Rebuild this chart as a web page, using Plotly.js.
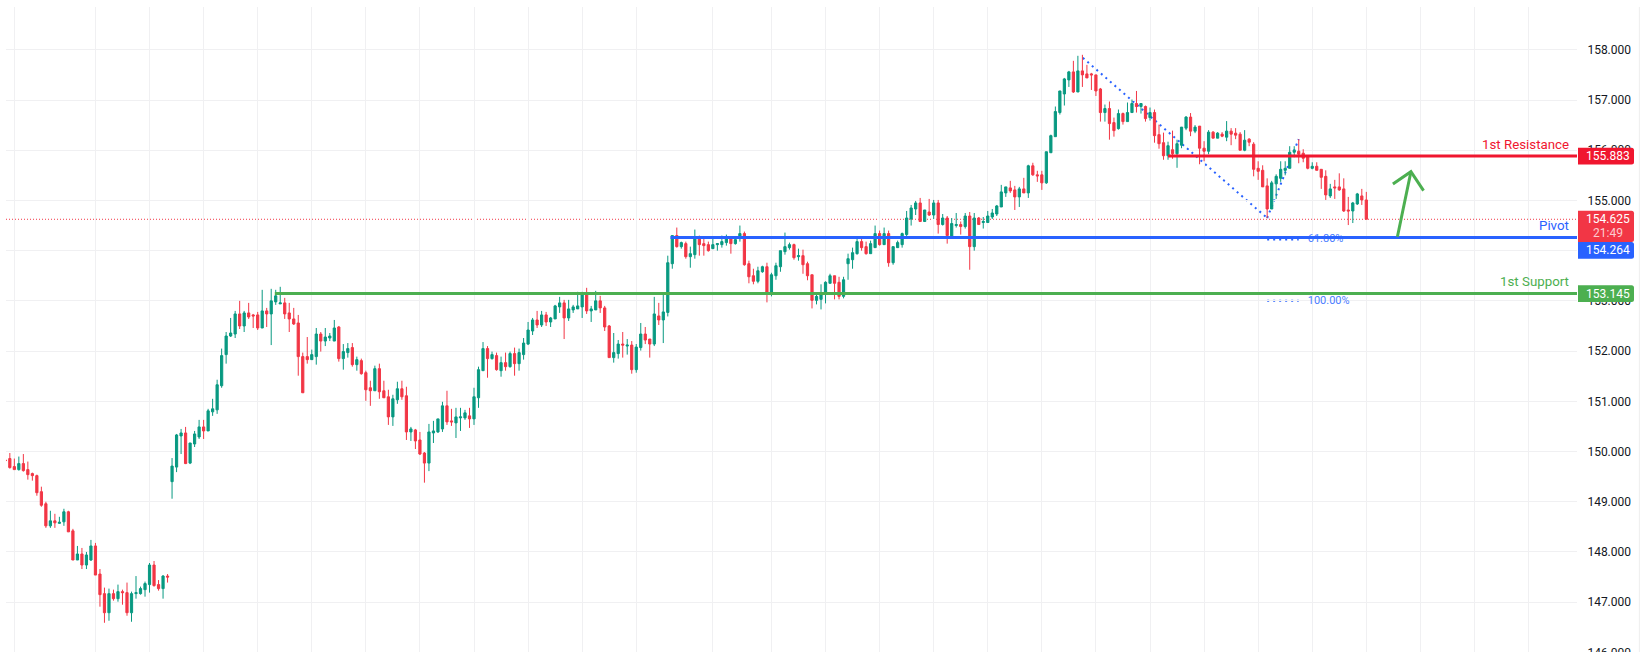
<!DOCTYPE html>
<html>
<head>
<meta charset="utf-8">
<script src="https://cdn.plot.ly/plotly-3.0.1.min.js"></script>
<style>html,body{margin:0;padding:0;background:#fff}#chart{width:1646px;height:660px}</style>
</head>
<body>
<div id="chart"></div>
<script>
const openPrices = [
149.83,149.86,149.70,149.64,149.76,149.64,149.56,149.52,149.20,148.96,
148.52,148.62,148.57,148.60,148.80,148.42,147.84,147.96,147.74,147.84,
148.12,147.56,147.17,146.79,147.17,147.07,147.21,147.19,146.79,147.17,
147.17,147.25,147.35,147.74,147.35,147.27,147.52,
149.40,149.69,150.31,150.37,149.77,150.15,150.29,150.49,150.41,150.79,
150.83,151.31,151.93,152.30,152.34,152.74,152.50,152.76,152.72,152.72,
152.46,152.80,152.74,152.98,152.94,152.96,152.76,152.64,152.56,151.89,
151.89,151.83,151.89,152.34,152.20,152.26,152.20,152.48,151.85,151.97,
152.07,151.73,151.81,151.57,151.27,151.21,151.65,151.21,151.09,150.69,
151.03,151.25,151.11,150.39,150.43,150.23,149.97,149.77,150.37,150.39,
150.45,150.91,150.61,150.57,150.67,150.67,150.71,150.65,151.07,151.61,
152.05,151.85,151.91,151.61,151.77,151.69,151.95,151.75,151.93,152.14,
152.40,152.62,152.52,152.72,152.58,152.64,152.88,152.96,152.66,152.82,
152.84,152.88,153.14,152.80,152.82,153.00,152.86,152.50,151.87,151.95,
152.14,152.10,152.12,151.63,152.07,152.34,152.24,152.14,152.70,152.62,
152.77,153.74,154.30,154.08,154.14,153.88,153.92,154.26,154.14,154.12,
154.04,154.12,154.12,154.16,154.26,154.14,154.24,154.34,153.74,153.50,
153.39,153.58,153.68,153.17,153.50,153.68,153.98,154.06,154.12,153.88,
153.90,153.74,153.52,153.01,153.03,153.13,153.35,153.50,153.37,153.09,
153.74,153.82,153.94,154.18,154.08,153.94,154.06,154.34,154.12,154.34,
153.76,154.06,154.12,154.32,154.63,154.83,154.95,154.58,154.77,154.71,
154.95,154.52,154.65,154.28,154.50,154.52,154.48,154.69,154.08,154.65,
154.56,154.56,154.67,154.73,154.87,155.15,155.25,155.21,155.07,155.23,
155.15,155.69,155.51,155.51,155.35,155.95,156.27,156.75,157.12,157.40,
157.56,157.16,157.58,157.52,157.52,157.50,157.22,156.75,156.83,156.55,
156.43,156.73,156.57,156.75,156.93,156.87,156.87,156.65,156.75,156.31,
156.15,155.89,156.01,155.93,156.10,156.44,156.66,156.38,156.48,156.04,
155.98,156.36,156.24,156.32,156.26,156.38,156.34,156.32,156.00,156.22,
156.12,155.64,155.60,155.29,154.83,155.33,155.44,155.60,155.64,155.96,
155.98,155.94,155.88,155.64,155.68,155.62,155.48,155.09,155.27,155.27,
155.23,154.81,154.79,154.93,155.09,155.01];
const highPrices = [
149.83,149.97,149.86,149.90,149.95,149.80,149.58,149.54,149.30,149.00,
148.82,148.76,148.70,148.86,148.82,148.46,148.12,148.08,148.00,148.24,
148.18,147.66,147.29,147.27,147.25,147.35,147.25,147.39,147.21,147.52,
147.31,147.41,147.78,147.82,147.44,147.54,147.56,
149.87,150.35,150.45,150.49,150.17,150.41,150.63,150.63,150.85,151.05,
151.43,152.05,152.38,152.66,152.80,153.00,152.80,152.96,152.74,152.78,
153.22,152.86,153.24,153.22,153.28,153.06,152.96,152.86,152.72,151.97,
152.28,152.03,152.46,152.38,152.46,152.36,152.62,152.50,152.14,152.16,
152.16,151.89,151.85,151.61,151.41,151.71,151.75,151.41,151.23,151.13,
151.39,151.41,151.29,150.49,150.45,150.39,149.99,150.55,150.61,150.65,
150.99,151.21,150.85,150.87,150.87,150.83,150.87,151.27,151.69,152.18,
152.10,151.99,151.97,151.89,151.97,151.99,152.07,152.05,152.26,152.58,
152.66,152.80,152.80,152.78,152.68,152.92,153.08,153.02,153.02,152.92,
153.18,153.18,153.26,152.90,153.20,153.10,152.90,152.52,152.36,152.22,
152.38,152.24,152.20,152.14,152.56,152.48,152.24,153.08,152.96,153.14,
153.90,154.30,154.46,154.18,154.18,154.08,154.42,154.30,154.24,154.18,
154.24,154.14,154.30,154.32,154.28,154.24,154.50,154.38,153.80,153.64,
153.68,153.70,153.76,153.56,153.76,154.00,154.36,154.16,154.14,154.04,
154.02,153.78,153.52,153.13,153.33,153.39,153.54,153.50,153.48,153.48,
153.94,154.06,154.24,154.26,154.18,154.20,154.50,154.40,154.46,154.40,
154.08,154.20,154.36,154.79,154.91,154.99,155.05,154.81,155.03,155.01,
155.01,154.73,154.69,154.65,154.75,154.58,154.75,154.77,154.75,154.67,
154.67,154.79,154.83,154.91,155.31,155.27,155.39,155.29,155.27,155.45,
155.71,155.75,155.59,155.59,155.97,156.31,156.87,157.18,157.44,157.58,
157.78,157.88,157.90,157.70,157.54,157.50,157.24,156.91,156.97,156.65,
156.81,156.75,156.95,157.01,157.18,156.93,156.89,156.85,156.81,156.51,
156.35,156.17,156.39,156.21,156.46,156.68,156.74,156.50,156.48,156.18,
156.40,156.38,156.36,156.36,156.58,156.44,156.44,156.36,156.40,156.24,
156.16,155.78,155.70,155.44,155.39,155.52,155.78,155.78,156.08,156.08,
156.22,156.02,155.90,155.76,155.76,155.62,155.60,155.33,155.41,155.54,
155.44,155.07,154.97,155.15,155.23,155.17];
const lowPrices = [
149.82,149.66,149.64,149.62,149.60,149.44,149.42,149.12,148.90,148.48,
148.48,148.48,148.56,148.52,148.40,147.84,147.84,147.66,147.66,147.82,
147.54,146.91,146.59,146.63,147.03,147.01,146.95,146.73,146.61,147.07,
147.15,147.11,147.19,147.31,147.23,147.07,147.39,
149.06,149.59,149.95,149.75,149.75,150.09,150.25,150.25,150.41,150.71,
150.75,151.27,151.75,152.28,152.26,152.44,152.38,152.64,152.46,152.42,
152.46,152.48,152.12,152.92,152.94,152.64,152.38,152.52,151.51,151.17,
151.75,151.83,151.73,151.99,152.10,152.20,152.20,151.79,151.63,151.87,
151.69,151.61,151.53,151.01,150.91,151.21,151.05,151.07,150.53,150.51,
150.95,151.03,150.23,150.21,150.05,149.93,149.38,149.61,150.17,150.37,
150.39,150.53,150.51,150.27,150.41,150.63,150.47,150.53,150.87,151.61,
151.47,151.83,151.61,151.49,151.61,151.67,151.51,151.61,151.83,152.12,
152.32,152.46,152.48,152.50,152.48,152.64,152.76,152.24,152.60,152.76,
152.84,152.66,152.74,152.58,152.82,152.76,152.40,151.87,151.77,151.85,
151.87,151.93,151.55,151.57,152.01,152.14,151.87,152.10,152.52,152.16,
152.69,153.64,154.06,154.04,153.84,153.66,153.84,153.90,153.90,153.98,
154.04,154.00,154.06,154.10,153.94,154.12,154.18,153.70,153.35,153.33,
153.35,153.56,152.97,153.09,153.42,153.58,153.92,154.02,153.82,153.80,
153.54,153.41,152.85,152.93,152.83,152.95,153.35,153.03,153.03,153.05,
153.42,153.64,153.92,154.00,153.92,153.94,154.06,154.10,154.12,153.68,
153.72,154.06,154.06,154.24,154.50,154.71,154.58,154.58,154.69,154.63,
154.34,154.50,154.14,154.28,154.46,154.32,154.44,153.62,154.00,154.52,
154.44,154.56,154.63,154.69,154.87,155.07,155.15,154.81,154.87,155.15,
155.05,155.49,155.37,155.21,155.33,155.95,156.27,156.71,156.89,157.26,
157.14,157.16,157.26,157.44,157.20,157.08,156.57,156.57,156.21,156.27,
156.41,156.51,156.57,156.75,156.75,156.73,156.57,156.59,156.15,156.03,
155.81,155.81,155.83,155.65,156.04,156.40,156.28,156.34,155.72,155.78,
155.92,156.24,156.24,156.26,156.18,156.10,156.22,156.00,155.98,156.08,
155.48,155.41,155.27,154.65,154.83,155.03,155.37,155.50,155.64,155.86,
155.74,155.76,155.62,155.62,155.60,155.23,155.01,155.05,155.03,155.19,
154.77,154.51,154.55,154.91,154.91,154.625];
const closePrices = [
149.82,149.68,149.64,149.76,149.62,149.54,149.52,149.18,148.93,148.52,
148.62,148.58,148.59,148.80,148.40,147.84,147.96,147.74,147.94,148.12,
147.54,147.15,146.79,147.17,147.07,147.21,147.19,146.79,147.17,147.19,
147.27,147.37,147.74,147.33,147.27,147.52,147.50,
149.71,150.33,150.37,149.76,150.17,150.35,150.49,150.41,150.81,150.85,
151.33,151.91,152.30,152.36,152.74,152.50,152.76,152.68,152.70,152.46,
152.80,152.74,153.00,153.10,152.96,152.74,152.64,152.54,151.89,151.17,
151.83,151.93,152.34,152.20,152.28,152.30,152.46,151.85,151.99,152.05,
151.73,151.83,151.55,151.23,151.21,151.65,151.19,151.07,150.69,151.05,
151.25,151.09,150.39,150.45,150.21,149.95,149.77,150.39,150.41,150.65,
150.91,150.59,150.59,150.69,150.69,150.77,150.65,151.09,151.63,152.05,
151.85,151.93,151.63,151.77,151.69,151.95,151.75,151.97,152.16,152.42,
152.62,152.52,152.72,152.58,152.66,152.90,152.96,152.66,152.84,152.88,
152.90,153.16,152.80,152.84,153.00,152.86,152.48,151.87,151.97,152.14,
152.12,152.12,151.63,152.08,152.34,152.22,152.14,152.74,152.62,152.78,
153.76,154.30,154.08,154.16,153.88,153.94,154.26,154.12,154.10,154.00,
154.12,154.14,154.18,154.28,154.14,154.22,154.34,153.72,153.48,153.39,
153.60,153.68,153.17,153.52,153.70,154.00,154.08,154.12,153.86,153.90,
153.72,153.50,153.01,153.09,153.15,153.37,153.50,153.35,153.09,153.42,
153.84,153.96,154.18,154.06,153.94,154.14,154.34,154.12,154.34,153.76,
154.08,154.16,154.34,154.65,154.85,154.95,154.58,154.81,154.71,154.95,
154.52,154.65,154.30,154.54,154.52,154.48,154.69,154.08,154.65,154.52,
154.58,154.69,154.75,154.89,155.17,155.27,155.19,155.07,155.23,155.15,
155.69,155.51,155.49,155.35,155.97,156.29,156.77,157.18,157.42,157.56,
157.16,157.58,157.50,157.44,157.50,157.18,156.75,156.83,156.53,156.39,
156.73,156.57,156.75,156.93,156.87,156.93,156.63,156.75,156.29,156.13,
155.89,156.09,155.93,156.13,156.46,156.66,156.38,156.46,156.04,155.98,
156.36,156.24,156.34,156.28,156.38,156.32,156.30,156.00,156.20,156.16,
155.62,155.58,155.27,154.83,155.35,155.48,155.62,155.64,155.96,156.00,
155.92,155.84,155.64,155.68,155.60,155.46,155.11,155.23,155.25,155.21,
154.79,154.79,154.95,155.13,155.01,154.625];
const barIndex = openPrices.map((_, i) => i);

const yTicks = [146,147,148,149,150,151,152,153,154,155,156,157,158];
const xGridBars = [2,20,32,44,56,68,80,92,104,116,128,140,157,170,182,194,206,218,230,242,254,266,278,290,302,314,326,338];

const lastPrice = 154.625, countdown = '21:49';
const resistance = 155.883, pivot = 154.264, support = 153.145;
const resistanceFrom = 258, pivotFrom = 147.6, supportFrom = 59.8;
const waveBars = [239.1, 280, 287];
const wavePrices = [157.84, 154.65, 156.22];
const fibBars = [280, 287];
const fibPrices = [154.22, 153.00];
const fibLabels = ['61.80%', '100.00%'];
const fibLabelBar = 289;
const arrowShaftBars = [308.9, 311.9], arrowShaftPrices = [154.278, 155.572];
const arrowHeadBars = [307.9, 311.9, 314.7], arrowHeadPrices = [155.327, 155.572, 155.194];

const xRange = [0.151, 348.75], yRange = [145.988, 158.852];
const RED = '#f0162f', CUR = '#f23645', BLUE = '#2962ff', GREEN = '#4caf50';
const FONT = 'Roboto, "Liberation Sans", sans-serif';

function hline(from, level, color) {
  return {type:'scatter', mode:'lines', x:[from, xRange[1]], y:[level, level],
          line:{color:color, width:3}, hoverinfo:'skip', showlegend:false};
}
function poly(xs, ys, color, width) {
  return {type:'scatter', mode:'lines', x:xs, y:ys, line:{color:color, width:width}, hoverinfo:'skip', showlegend:false};
}

const traces = [
  {type:'candlestick', x:barIndex, open:openPrices, high:highPrices, low:lowPrices, close:closePrices,
   width:0.44, whiskerwidth:0,
   increasing:{line:{color:'#089981', width:1}, fillcolor:'#089981'},
   decreasing:{line:{color:'#f23645', width:1}, fillcolor:'#f23645'},
   hoverinfo:'skip', showlegend:false},
  {type:'scatter', mode:'text', x:[fibLabelBar, fibLabelBar], y:fibPrices, text:fibLabels,
   textposition:'middle right', textfont:{family:FONT, size:11, color:'#4a7dff'}, hoverinfo:'skip', showlegend:false},
  hline(resistanceFrom, resistance, RED),
  hline(pivotFrom, pivot, BLUE),
  hline(supportFrom, support, GREEN),
  poly(arrowShaftBars, arrowShaftPrices, GREEN, 3),
  poly(arrowHeadBars, arrowHeadPrices, GREEN, 3)
];

const TAGX = 1.01846;
function roundTag(price, color, up, down) {
  const L = -28, R = 28, r = 2.5;
  return {type:'path', layer:'above', xref:'paper', yref:'y', xsizemode:'pixel', ysizemode:'pixel',
          xanchor:TAGX, yanchor:price, fillcolor:color, line:{width:0},
          path:`M ${L} ${up} L ${R-r} ${up} Q ${R} ${up} ${R} ${up-r} L ${R} ${down+r} Q ${R} ${down} ${R-r} ${down} L ${L} ${down} Z`};
}

const dotted = {color:BLUE, width:2, dash:'2px,4px'};
const shapes = [
  {type:'line', layer:'below', xref:'x', yref:'y', x0:xRange[0], x1:xRange[1], y0:lastPrice, y1:lastPrice,
   line:{color:CUR, width:1, dash:'1px,2px'}},
  {type:'line', layer:'below', xref:'x', yref:'y', x0:waveBars[0], x1:waveBars[1], y0:wavePrices[0], y1:wavePrices[1], line:dotted},
  {type:'line', layer:'below', xref:'x', yref:'y', x0:waveBars[1], x1:waveBars[2], y0:wavePrices[1], y1:wavePrices[2], line:dotted},
  {type:'line', layer:'below', xref:'x', yref:'y', x0:fibBars[0], x1:fibBars[1], y0:fibPrices[0], y1:fibPrices[0], line:dotted},
  {type:'line', layer:'below', xref:'x', yref:'y', x0:fibBars[0], x1:fibBars[1], y0:fibPrices[1], y1:fibPrices[1], line:dotted},
  {type:'line', xref:'paper', yref:'paper', x0:1.0397, x1:1.0397, y0:0, y1:1, line:{color:'#eeeeee', width:1}},
  roundTag(resistance, RED, 8.4, -8.4),
  roundTag(lastPrice, CUR, 8.4, -22.8),
  roundTag(pivot, BLUE, -4.6, -21.4),
  roundTag(support, GREEN, 8.4, -8.4)
];

function tag(price, text, yshift, color) {
  return {xref:'paper', yref:'y', x:TAGX, y:price, xanchor:'center', yanchor:'middle', xshift:1.5, yshift:yshift||0,
          text:text, showarrow:false, borderpad:0, borderwidth:0,
          font:{family:FONT, size:12, color:color||'#ffffff'}};
}
function levelLabel(price, text, color) {
  return {xref:'x', yref:'y', x:xRange[1], y:price, xanchor:'right', yanchor:'middle', yshift:12, xshift:-8.5,
          text:text, showarrow:false, borderpad:0, borderwidth:0, font:{family:FONT, size:13.3, color:color}};
}

const annotations = [
  levelLabel(resistance, '1st Resistance', RED),
  levelLabel(pivot, 'Pivot', BLUE),
  levelLabel(support, '1st Support', GREEN),
  tag(resistance, resistance.toFixed(3)),
  tag(lastPrice, lastPrice.toFixed(3)),
  tag(lastPrice, countdown, -14, 'rgba(255,255,255,0.75)'),
  tag(pivot, pivot.toFixed(3), -13),
  tag(support, support.toFixed(3)),
  {xref:'paper', yref:'paper', x:-6/1571, y:1/646, xanchor:'left', yanchor:'top', text:'&nbsp;', showarrow:false,
   bgcolor:'#ffffff', width:1646, height:9, borderpad:0, borderwidth:0, font:{size:6}}
];

const layout = {
  width:1646, height:660, paper_bgcolor:'#ffffff', plot_bgcolor:'#ffffff',
  margin:{l:6, r:69, t:7, b:7, pad:0},
  showlegend:false, dragmode:false,
  font:{family:FONT, size:12, color:'#131722'},
  xaxis:{type:'linear', range:xRange, rangeslider:{visible:false}, showticklabels:false, ticks:'',
         tickmode:'array', tickvals:xGridBars, showgrid:true, gridcolor:'#f0f0f2', gridwidth:1,
         zeroline:false, showline:false},
  yaxis:{type:'linear', side:'right', range:yRange, tickmode:'array', tickvals:yTicks, tickformat:'.3f',
         ticks:'outside', ticklen:7, tickcolor:'rgba(0,0,0,0)', showgrid:true, gridcolor:'#f0f0f2', gridwidth:1,
         zeroline:false, showline:false, automargin:false, tickfont:{family:FONT, size:12, color:'#131722'}},
  shapes:shapes, annotations:annotations
};
Plotly.newPlot('chart', traces, layout, {displayModeBar:false, staticPlot:true, responsive:false});
</script>
</body>
</html>
